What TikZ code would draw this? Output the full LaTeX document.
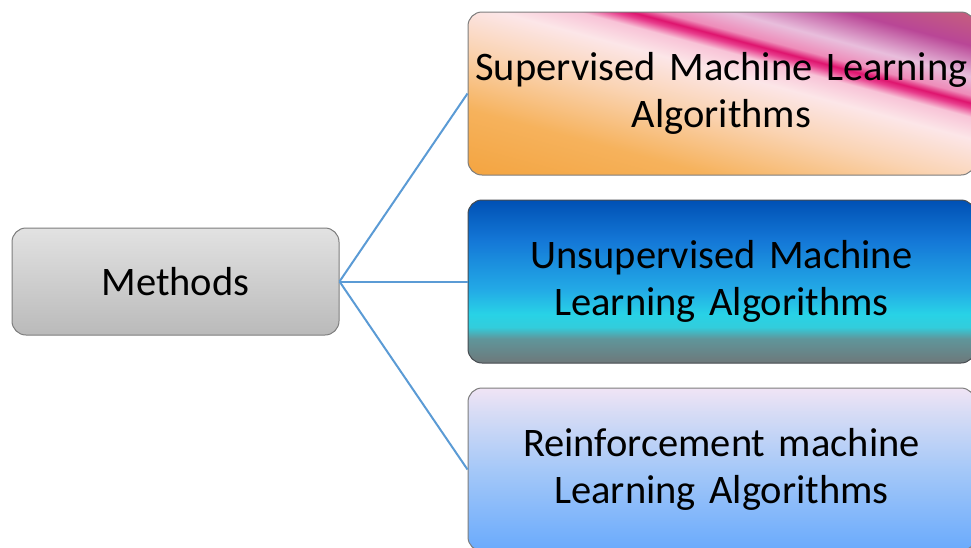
\documentclass[tikz,border=0pt]{standalone}
\usepackage{fontspec}
\setmainfont{Carlito}
\usetikzlibrary{positioning}

\definecolor{branchblue}{RGB}{91,155,213}
\definecolor{boxgray}{RGB}{125,125,125}
\definecolor{boxdark}{RGB}{70,75,80}
% supervised
\definecolor{supA}{RGB}{243,163,62}
\definecolor{supB}{RGB}{246,178,92}
\definecolor{supC}{RGB}{250,212,180}
\definecolor{supD}{RGB}{252,230,232}
\definecolor{supE}{RGB}{248,195,215}
\definecolor{supF}{RGB}{232,60,140}
\definecolor{supG}{RGB}{222,20,110}
\definecolor{supH}{RGB}{238,140,185}
\definecolor{supI}{RGB}{232,190,220}
\definecolor{supJ}{RGB}{185,70,150}
\definecolor{supK}{RGB}{200,100,120}
% unsupervised
\definecolor{unsA}{RGB}{110,120,122}
\definecolor{unsB}{RGB}{95,150,155}
\definecolor{unsC}{RGB}{50,205,220}
\definecolor{unsD}{RGB}{40,210,230}
\definecolor{unsE}{RGB}{35,170,230}
\definecolor{unsF}{RGB}{20,120,215}
\definecolor{unsG}{RGB}{0,80,180}
% reinforcement
\definecolor{reiA}{RGB}{105,170,252}
\definecolor{reiB}{RGB}{165,200,248}
\definecolor{reiC}{RGB}{215,220,245}
\definecolor{reiD}{RGB}{240,228,245}

% the part of a shading that is seen runs from 25bp to 75bp
\pgfdeclareverticalshading{supshade}{100bp}{color(0bp)=(supA); color(25bp)=(supA);
  color(36.5bp)=(supB); color(46.5bp)=(supC); color(53.5bp)=(supD); color(57bp)=(supE);
  color(58.5bp)=(supF); color(59.25bp)=(supG); color(60.5bp)=(supH); color(63.5bp)=(supI);
  color(68.5bp)=(supJ); color(75bp)=(supK); color(100bp)=(supK)}
\pgfdeclareverticalshading{unsshade}{100bp}{color(0bp)=(unsA); color(25bp)=(unsA);
  color(32.5bp)=(unsB); color(36bp)=(unsC); color(40bp)=(unsD); color(47.5bp)=(unsE);
  color(62.5bp)=(unsF); color(75bp)=(unsG); color(100bp)=(unsG)}
\pgfdeclareverticalshading{reishade}{100bp}{color(0bp)=(reiA); color(25bp)=(reiA);
  color(50bp)=(reiB); color(67.5bp)=(reiC); color(75bp)=(reiD); color(100bp)=(reiD)}

\begin{document}
\begin{tikzpicture}[
  x=1pt, y=-1pt,
  node distance=24pt and 1cm,
  box/.style={draw=boxgray, line width=1pt, rounded corners=14pt,
    minimum width=507pt, minimum height=163pt, text width=500pt,
    align=center, inner sep=0pt, font=\fontsize{40.5}{47}\selectfont},
  branch/.style={draw=branchblue, line width=2pt}
]
\clip (0,0) rectangle (971,547);

\node[box, minimum width=327pt, minimum height=107pt, text width=320pt,
  top color={rgb,255:red,226;green,226;blue,226},
  bottom color={rgb,255:red,186;green,186;blue,186}] (methods) at (175.5,281.5) {Methods};

\node[box, path picture={
    \begin{scope}[transform canvas={rotate around={-15:(path picture bounding box.center)}}]
      \shade[shading=supshade] ([shift={(-290,-150)}]path picture bounding box.center)
        rectangle ([shift={(290,150)}]path picture bounding box.center);
    \end{scope}}] (supervised) at (721.5,93.5) {Supervised Machine Learning\\Algorithms};
\node[box, draw=boxdark, shade, shading=unsshade, below=of supervised] (unsupervised)
  {Unsupervised Machine\\Learning Algorithms};
\node[box, shade, shading=reishade, below=of unsupervised] (reinforcement)
  {Reinforcement machine\\Learning Algorithms};

\path (methods.east) edge[branch] (supervised.west)
(methods.east) edge[branch] (unsupervised.west)
(methods.east) edge[branch] (reinforcement.west);

\end{tikzpicture}
\end{document}
